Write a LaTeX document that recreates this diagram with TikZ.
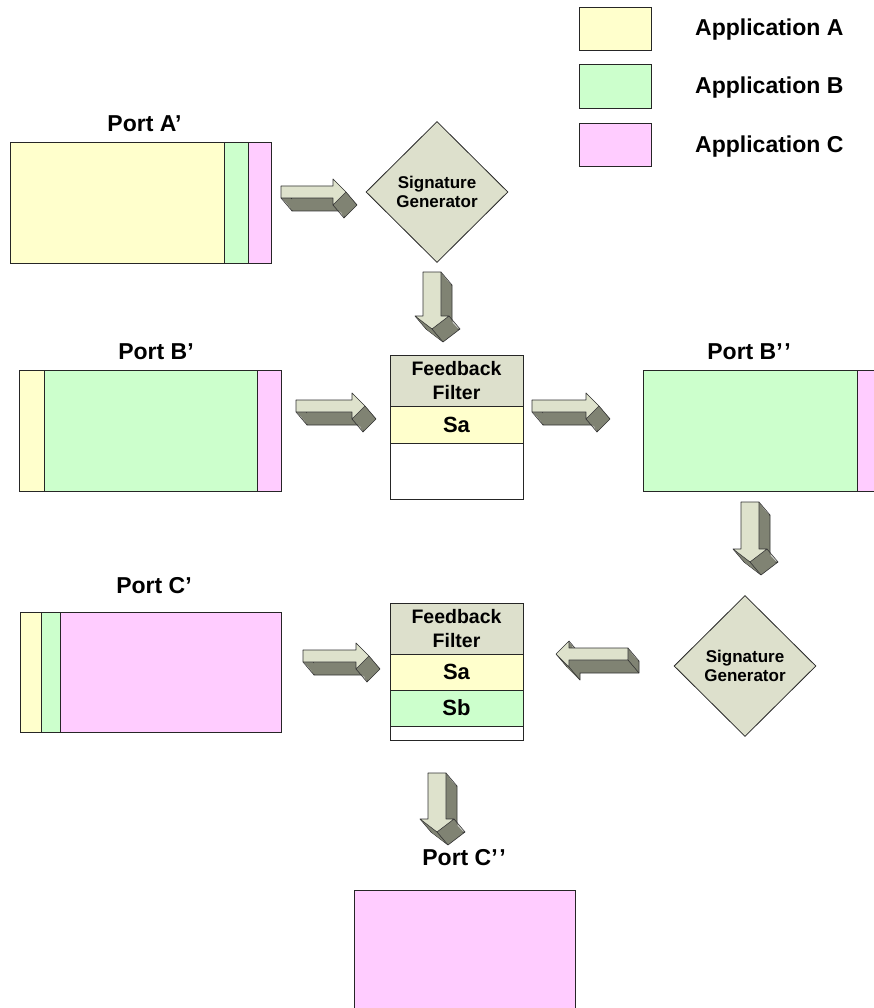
\documentclass[tikz,border=0pt]{standalone}
\usepackage{fontspec}
\newfontfamily\arialb{Liberation Sans}
\usetikzlibrary{shapes.geometric,calc}
\definecolor{appA}{RGB}{255,255,204}
\definecolor{appB}{RGB}{204,255,204}
\definecolor{appC}{RGB}{255,204,255}
\definecolor{greige}{RGB}{221,224,204}
\definecolor{arrlight}{RGB}{222,226,204}
\definecolor{arrdark}{RGB}{128,131,115}
\tikzset{
 seg/.style={draw=black!85, line width=0.8pt, inner sep=0pt, outer sep=0pt, anchor=north west},
 lbl/.style={font=\arialb\bfseries\fontsize{23}{27}\selectfont, inner sep=0pt, anchor=base},
 leglbl/.style={font=\arialb\bfseries\fontsize{23}{27}\selectfont, inner sep=0pt, anchor=base west},
 sgen/.style={shape=diamond, draw=black!85, line width=0.8pt, fill=greige, minimum width=142pt, minimum height=141pt, inner sep=0pt, align=center, font=\arialb\bfseries\fontsize{17}{19}\selectfont},
 fftext/.style={font=\arialb\bfseries\fontsize{19.5}{24}\selectfont, align=center},
 cell/.style={font=\arialb\bfseries\fontsize{22}{26}\selectfont},
 arrback/.style={fill=arrdark, draw=black!80, line width=0.6pt, line join=round},
 arrline/.style={draw=black!80, line width=0.6pt},
 arrfront/.style={fill=arrlight, draw=black!80, line width=0.6pt, line join=round},
}
\newcommand\dprime{’\kern1.5pt’}
% #1 tail coordinate, #2 angle, #3 length, #4 shaft half width, #5 head half width
\newcommand\blockarrow[5]{%
 \begin{scope}[shift={(#1)}, rotate=#2]
  \pgfmathsetmacro\ox{11*cos(#2)-13*sin(#2)}
  \pgfmathsetmacro\oy{11*sin(#2)+13*cos(#2)}
  \pgfmathsetmacro\hb{#3-13}
  \def\ashape{(0,-#4) -- (\hb,-#4) -- (\hb,-#5) -- (#3,0) -- (\hb,#5) -- (\hb,#4) -- (0,#4) -- cycle}
  \draw[arrback, shift={(\ox,\oy)}] \ashape;
  \foreach \k in {11,...,1}{\fill[arrdark, shift={({\k*\ox/12},{\k*\oy/12})}] \ashape;}
  \foreach \p in {(0,-#4),(0,#4),(\hb,-#5),(#3,0),(\hb,#5)}{\draw[arrline] \p -- ++(\ox,\oy);}
  \draw[arrfront] \ashape;
 \end{scope}}
\begin{document}
\begin{tikzpicture}[x=1pt,y=-1pt]
\useasboundingbox (0,0) rectangle (874,1008);
\clip (0,0) rectangle (874,1008);
% legend
\node[seg, fill=appA, minimum width=72pt, minimum height=43pt] (legA) at (579,7) {};
\node[seg, fill=appB, minimum width=72pt, minimum height=44pt] (legB) at (579,64) {};
\node[seg, fill=appC, minimum width=72pt, minimum height=43pt] (legC) at (579,123) {};
\node[leglbl] (legAt) at (695,36) {Application A};
\node[leglbl] (legBt) at (695,94) {Application B};
\node[leglbl] (legCt) at (695,153) {Application C};
% Port A'
\node[lbl] (pAl) at (144.5,132) {Port A’};
\node[seg, fill=appA, minimum width=214pt, minimum height=121pt] (pA1) at (10,142) {};
\node[seg, fill=appB, minimum width=24pt, minimum height=121pt] (pA2) at (224,142) {};
\node[seg, fill=appC, minimum width=23pt, minimum height=121pt] (pA3) at (248,142) {};
% Signature generator 1
\node[sgen] (sg1) at (437,192) {Signature\\Generator};
% Port B'
\node[lbl] (pBl) at (156,359) {Port B’};
\node[seg, fill=appA, minimum width=25pt, minimum height=121pt] (pB1) at (19,370) {};
\node[seg, fill=appB, minimum width=213pt, minimum height=121pt] (pB2) at (44,370) {};
\node[seg, fill=appC, minimum width=24pt, minimum height=121pt] (pB3) at (257,370) {};
% Feedback filter 1
\node[seg, fill=greige, minimum width=133pt, minimum height=51pt, fftext] (ff1h) at (390,355) {Feedback\\Filter};
\node[seg, fill=appA, minimum width=133pt, minimum height=37pt, cell] (ff1a) at (390,406) {Sa};
\node[seg, fill=white, minimum width=133pt, minimum height=56pt] (ff1e) at (390,443) {};
% Port B''
\node[lbl] (pBBl) at (749,359) {Port B\dprime};
\node[seg, fill=appB, minimum width=214pt, minimum height=121pt] (pBB1) at (643,370) {};
\node[seg, fill=appC, minimum width=30pt, minimum height=121pt] (pBB2) at (857,370) {};
% Port C'
\node[lbl] (pCl) at (154,593) {Port C’};
\node[seg, fill=appA, minimum width=21pt, minimum height=120pt] (pC1) at (20,612) {};
\node[seg, fill=appB, minimum width=19pt, minimum height=120pt] (pC2) at (41,612) {};
\node[seg, fill=appC, minimum width=221pt, minimum height=120pt] (pC3) at (60,612) {};
% Feedback filter 2
\node[seg, fill=greige, minimum width=133pt, minimum height=51pt, fftext] (ff2h) at (390,603) {Feedback\\Filter};
\node[seg, fill=appA, minimum width=133pt, minimum height=36pt, cell] (ff2a) at (390,654) {Sa};
\node[seg, fill=appB, minimum width=133pt, minimum height=36pt, cell] (ff2b) at (390,690) {Sb};
\node[seg, fill=white, minimum width=133pt, minimum height=14pt] (ff2e) at (390,726) {};
% Signature generator 2
\node[sgen] (sg2) at (745,666) {Signature\\Generator};
% Port C''
\node[lbl] (pCCl) at (464,865) {Port C\dprime};
\node[seg, fill=appC, minimum width=221pt, minimum height=130pt] (pCC) at (354,890) {};
% block arrows
\coordinate (arA) at (281,192);
\coordinate (arS1) at (432,272);
\coordinate (arB1) at (296,406);
\coordinate (arB2) at (532,406);
\coordinate (arS2) at (750,502);
\coordinate (arC1) at (303,656);
\coordinate (arS3) at (628,654);
\coordinate (arF) at (437,773);
\blockarrow{arA}{0}{65}{6}{13}
\blockarrow{arS1}{-90}{57}{9}{17}
\blockarrow{arB1}{0}{69}{6}{13}
\blockarrow{arB2}{0}{67}{6}{13}
\blockarrow{arS2}{-90}{60}{9}{17}
\blockarrow{arC1}{0}{66}{6}{13}
\blockarrow{arS3}{180}{72}{6}{13}
\blockarrow{arF}{-90}{59}{9}{17}
\end{tikzpicture}
\end{document}
